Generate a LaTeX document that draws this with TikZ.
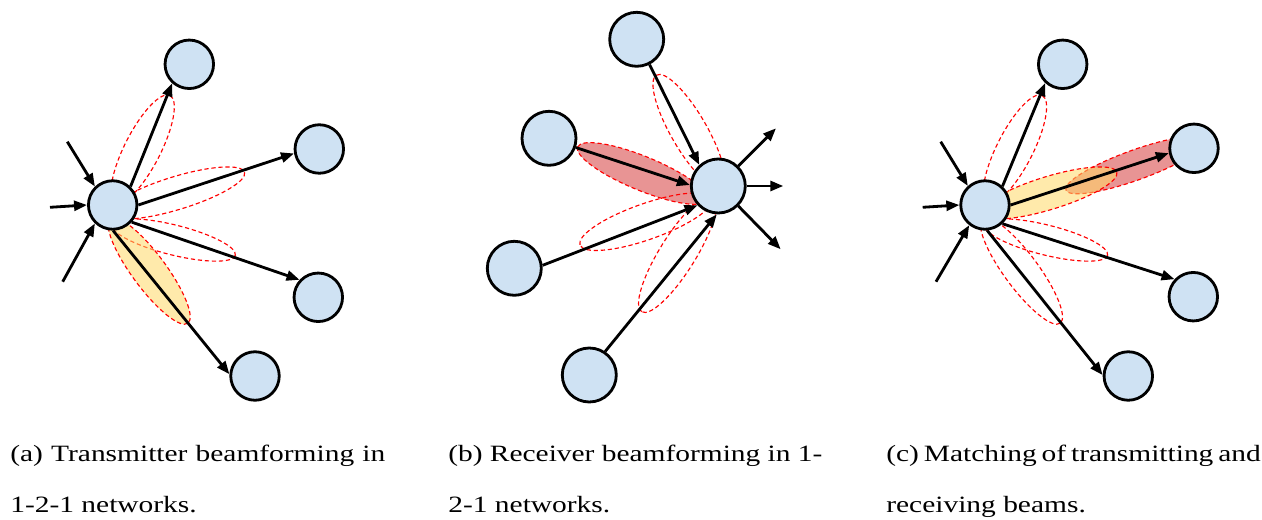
\documentclass[tikz,border=0pt]{standalone}
\usepackage{fontspec}
\setmainfont[FakeStretch=1.26]{Liberation Serif}
\usetikzlibrary{arrows.meta,backgrounds}

\definecolor{stationblue}{RGB}{207,226,243}
\definecolor{beamyellow}{RGB}{255,217,102}
\definecolor{beamred}{RGB}{214,60,60}

\begin{document}
\begin{tikzpicture}[x=0.02cm,y=-0.02cm]
    \tikzstyle{station} = [circle, draw, line width=1.6pt, fill=stationblue,
        minimum size=0.97cm, inner sep=0pt]
    \tikzstyle{line} = [draw, line width=1.6pt,
        -{Triangle[length=0.26cm,width=0.2cm]}]
    \tikzstyle{lobe} = [draw=red, dash pattern=on 2.4pt off 1.6pt, line width=0.65pt]
    \tikzstyle{txlobe} = [lobe, fill=beamyellow, fill opacity=.55]
    \tikzstyle{rxlobe} = [lobe, fill=beamred, fill opacity=.55]
    \tikzstyle{caption} = [anchor=base west, inner sep=0pt,
        font=\fontsize{13.3}{16}\selectfont]

    \useasboundingbox (0,0) rectangle (1262,520);

    % Transmitter beamforming
    \node[station] (ta) at (112.7,205) {};
    \node[station] (ta1) at (189.3,64.3) {};
    \node[station] (ta2) at (319.3,149) {};
    \node[station] (ta3) at (318.3,297.3) {};
    \node[station] (ta4) at (255,376) {};
    \coordinate (tain1) at (67.3,141.7);
    \coordinate (tain2) at (50,207.3);
    \coordinate (tain3) at (62.7,281.7);
    \begin{scope}[on background layer]
      \draw[lobe, shift={(142.7,149)}, rotate=63] (0,0) ellipse (60 and 18);
      \draw[lobe, shift={(176.7,193)}, rotate=17] (0,0) ellipse (71 and 16.5);
      \draw[lobe, shift={(173.7,240)}, rotate=-14] (0,0) ellipse (63.5 and 15);
      \draw[txlobe, shift={(149.2,271)}, rotate=-53.5] (0,0) ellipse (65 and 17);
    \end{scope}
    \draw[line] (tain1) -- (ta.134);
    \draw[line] (tain2) -- (ta.180);
    \draw[line] (tain3) -- (ta.226);
    \draw[line] (ta.46) -- (ta1.228);
    \draw[line] (ta.0) -- (ta2.190);
    \draw[line] (ta.-42) -- (ta3.137);
    \draw[line] (ta.-89) -- (ta4.176);

    % Receiver beamforming
    \node[station, minimum size=1.08cm] (rb) at (718.3,186) {};
    \node[station, minimum size=1.08cm] (rb1) at (636.7,39.3) {};
    \node[station, minimum size=1.08cm] (rb2) at (549,138.3) {};
    \node[station, minimum size=1.08cm] (rb3) at (514.3,268.3) {};
    \node[station, minimum size=1.08cm] (rb4) at (589.3,375) {};
    \coordinate (rbout1) at (776,128.3);
    \coordinate (rbout2) at (783.3,186);
    \coordinate (rbout3) at (780.7,249.3);
    \begin{scope}[on background layer]
      \draw[lobe, shift={(689,131.4)}, rotate=120] (0,0) ellipse (65 and 18);
      \draw[rxlobe, shift={(642.5,173.5)}, rotate=157.7] (0,0) ellipse (70 and 17);
      \draw[lobe, shift={(646,221.7)}, rotate=199.4] (0,0) ellipse (70 and 18);
      \draw[lobe, shift={(677.6,254)}, rotate=238.1] (0,0) ellipse (68 and 18);
    \end{scope}
    \draw[line] (rb1.-63) -- (rb.132);
    \draw[line] (rb2.-19) -- (rb.178);
    \draw[line] (rb3.6) -- (rb.223);
    \draw[line] (rb4.56) -- (rb.267);
    \draw[line] (rb.45) -- (rbout1);
    \draw[line] (rb.0) -- (rbout2);
    \draw[line] (rb.-45) -- (rbout3);

    % Matching of beams
    \node[station] (mc) at (985,205) {};
    \node[station] (mc1) at (1062.7,64.3) {};
    \node[station] (mc2) at (1194,148.3) {};
    \node[station] (mc3) at (1193.3,296.7) {};
    \node[station] (mc4) at (1128.3,376) {};
    \coordinate (mcin1) at (940.7,141.7);
    \coordinate (mcin2) at (922.7,207.3);
    \coordinate (mcin3) at (936,281.7);
    \begin{scope}[on background layer]
      \draw[lobe, shift={(1015,149)}, rotate=63] (0,0) ellipse (60 and 18);
      \draw[rxlobe, shift={(1135.5,165)}, rotate=19.8] (0,0) ellipse (74 and 15);
      \draw[txlobe, shift={(1049,193)}, rotate=17] (0,0) ellipse (71 and 16.5);
      \draw[lobe, shift={(1046,240)}, rotate=-14] (0,0) ellipse (63.5 and 15);
      \draw[lobe, shift={(1021.5,271)}, rotate=-53.5] (0,0) ellipse (65 and 17);
    \end{scope}
    \draw[line] (mcin1) -- (mc.132);
    \draw[line] (mcin2) -- (mc.180);
    \draw[line] (mcin3) -- (mc.232);
    \draw[line] (mc.47) -- (mc1.227);
    \draw[line] (mc.0) -- (mc2.191);
    \draw[line] (mc.-47) -- (mc3.137);
    \draw[line] (mc.-85) -- (mc4.178);

    % Captions
    \node[caption] (capa1) at (10,461)
        {\makebox[7.50cm][s]{(a) Transmitter beamforming in}};
    \node[caption] (capa2) at (10,512) {1-2-1 networks.};
    \node[caption] (capb1) at (448,461)
        {\makebox[7.48cm][s]{(b) Receiver beamforming in 1-}};
    \node[caption] (capb2) at (448,512) {2-1 networks.};
    \node[caption] (capc1) at (886,461)
        {\makebox[7.42cm][s]{(c) Matching of transmitting and}};
    \node[caption] (capc2) at (886,512) {receiving beams.};
  \end{tikzpicture}
\end{document}
